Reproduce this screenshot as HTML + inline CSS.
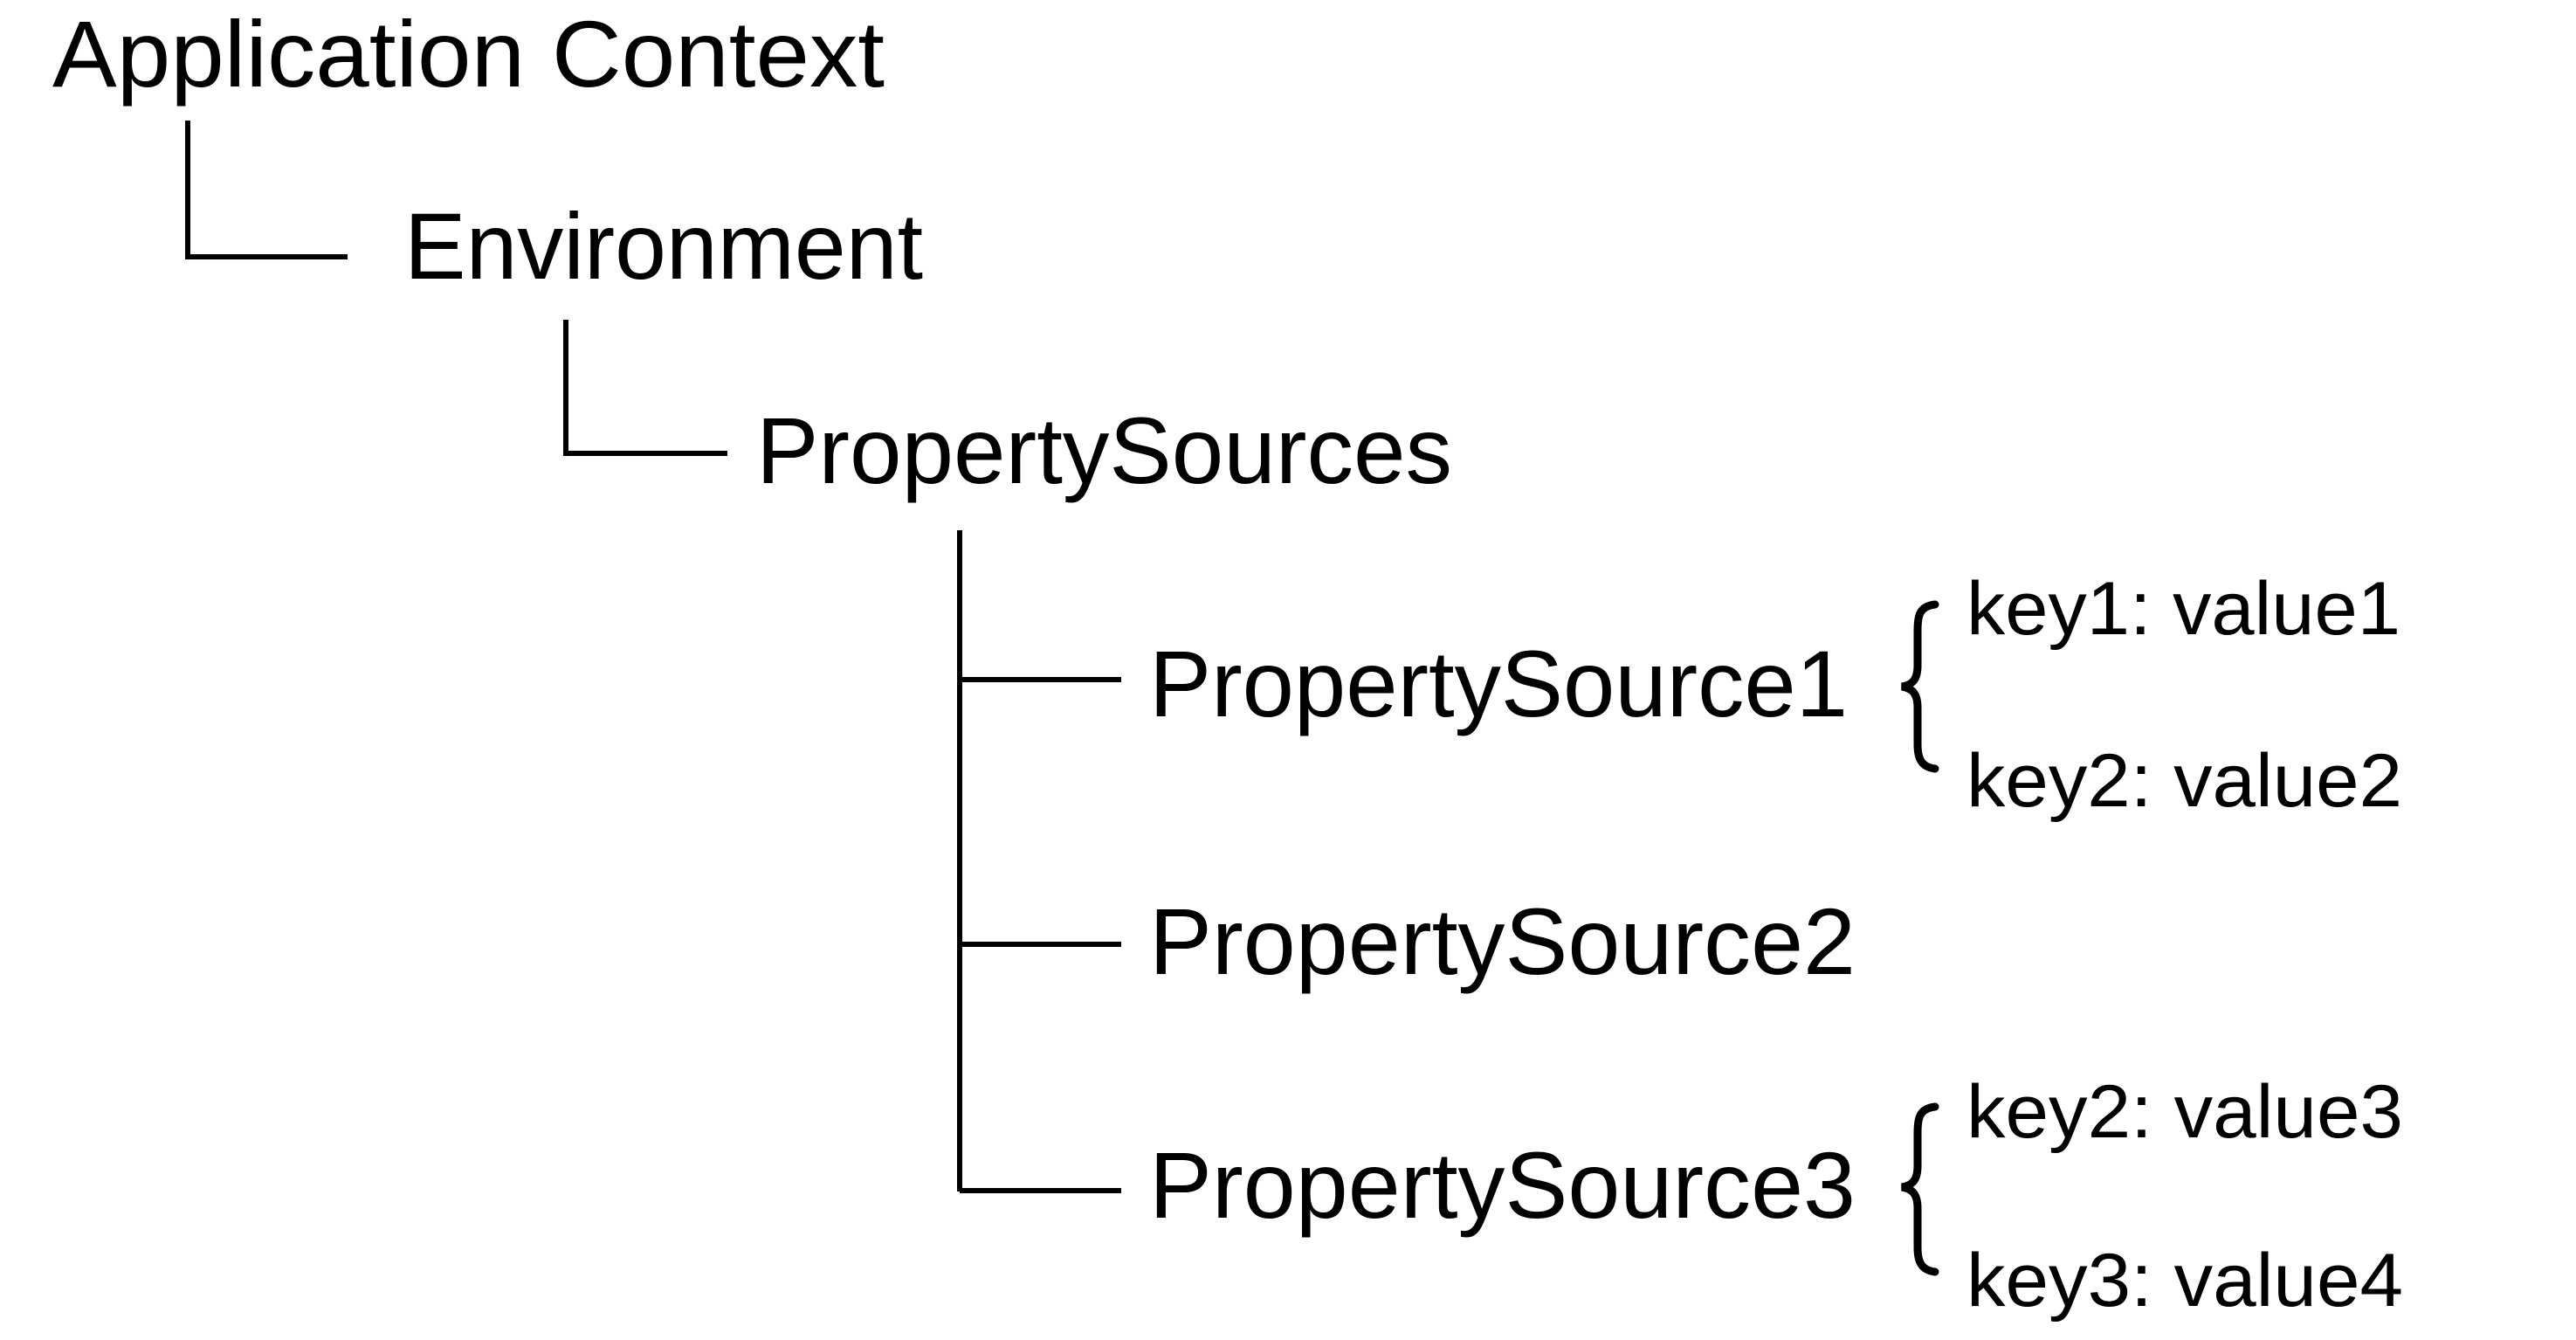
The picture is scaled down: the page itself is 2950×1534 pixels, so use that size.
<!DOCTYPE html>
<html><head><meta charset="utf-8"><style>html,body{margin:0;padding:0;background:#fff}svg{display:block}</style></head>
<body>
<svg width="2950" height="1534" viewBox="0 0 2950 1534" xmlns="http://www.w3.org/2000/svg">
<g font-family="Liberation Sans, sans-serif" fill="#000">
<text x="60" y="99" font-size="108" textLength="953" lengthAdjust="spacingAndGlyphs">Application Context</text>
<text x="463" y="319" font-size="108" textLength="594" lengthAdjust="spacingAndGlyphs">Environment</text>
<text x="866" y="553" font-size="108" textLength="797" lengthAdjust="spacingAndGlyphs">PropertySources</text>
<text x="1316" y="820" font-size="108" textLength="800" lengthAdjust="spacingAndGlyphs">PropertySource1</text>
<text x="1316" y="1115" font-size="108" textLength="809" lengthAdjust="spacingAndGlyphs">PropertySource2</text>
<text x="1316" y="1394" font-size="108" textLength="809" lengthAdjust="spacingAndGlyphs">PropertySource3</text>
<text x="2252" y="726" font-size="86" textLength="497" lengthAdjust="spacingAndGlyphs">key1: value1</text>
<text x="2252" y="923" font-size="86" textLength="499" lengthAdjust="spacingAndGlyphs">key2: value2</text>
<text x="2252" y="1302" font-size="86" textLength="500" lengthAdjust="spacingAndGlyphs">key2: value3</text>
<text x="2252" y="1495" font-size="86" textLength="500" lengthAdjust="spacingAndGlyphs">key3: value4</text>
</g>
<g stroke="#000" stroke-width="6" fill="none">
<path d="M215 138 V294 H398"/>
<path d="M648 366 V519 H833"/>
<path d="M1099 607 V1364 M1099 778 H1284 M1099 1081 H1284 M1099 1363 H1284"/>
</g>
<g stroke="#000" fill="none" stroke-linecap="round">
<path d="M2216 692 C2198 694 2196 705 2196 722 V762 C2196 778 2190 784 2178 786 C2190 788 2196 794 2196 810 V852 C2196 868 2200 878 2216 880" stroke-width="9"/>
<path d="M2216 1267 C2198 1269 2196 1280 2196 1297 V1335 C2196 1351 2190 1357 2178 1359 C2190 1361 2196 1367 2196 1383 V1428 C2196 1444 2200 1454 2216 1456" stroke-width="9"/>
</g>
</svg>
</body></html>
